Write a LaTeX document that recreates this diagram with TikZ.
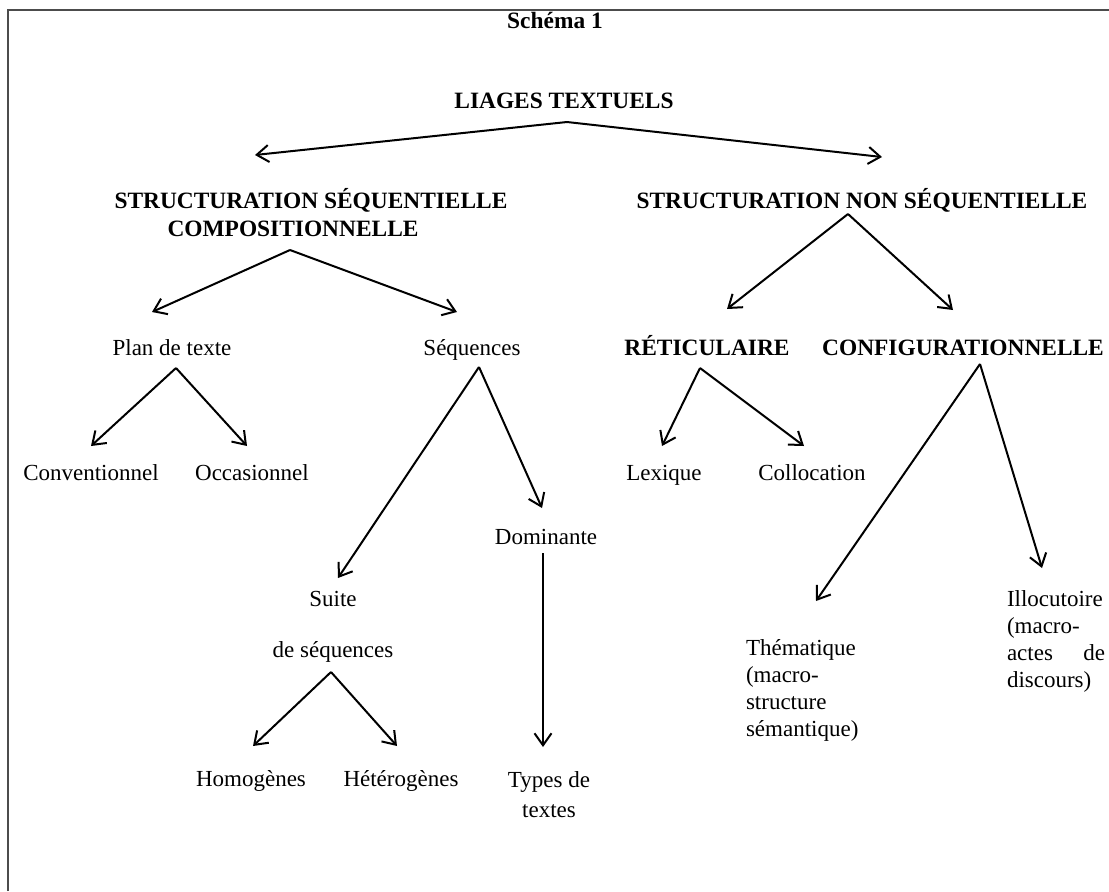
\documentclass[tikz,border=0pt]{standalone}
\usepackage{fontspec}
\setmainfont{Liberation Serif}
\usetikzlibrary{arrows.meta}
\begin{document}
\begin{tikzpicture}[x=0.5pt,y=-0.5pt,
  every node/.style={inner sep=0pt, outer sep=0pt, anchor=base, font=\fontsize{11.5}{13.4}\selectfont},
  hd/.style={font=\fontsize{11.7}{13.4}\selectfont\bfseries},
  link/.style={line width=1pt, -{Straight Barb[length=6pt,width=8.5pt,line width=1pt]}},
  frame/.style={line width=1pt, draw=black!70}]
\useasboundingbox (0,0) rectangle (1109,891);
\draw[frame] (8,891) -- (8,10) -- (1109,10);

% texts
\node[hd] (title) at (555,28) {Schéma 1};
\node[hd] (liages) at (564,108) {LIAGES TEXTUELS};
\node[hd] (seqA) at (311,208) {STRUCTURATION SÉQUENTIELLE};
\node[hd] (seqB) at (293,236) {COMPOSITIONNELLE};
\node[hd] (nonseq) at (862,208) {STRUCTURATION NON SÉQUENTIELLE};
\node (plan) at (172,355) {Plan de texte};
\node (sequences) at (472,355) {Séquences};
\node[hd] (ret) at (707,355) {RÉTICULAIRE};
\node[hd] (config) at (963,355) {CONFIGURATIONNELLE};
\node (conv) at (91,480) {Conventionnel};
\node (occ) at (252,480) {Occasionnel};
\node (lex) at (664,480) {Lexique};
\node (coll) at (812,480) {Collocation};
\node (dom) at (546,544) {Dominante};
\node (suite) at (333,606) {Suite};
\node (deseq) at (333,657) {de séquences};
\node (homo) at (251,786) {Homogènes};
\node (hetero) at (401,786) {Hétérogènes};
\node[align=center] (types) at (549,817) {Types de\\[1.2pt]textes};
\node[anchor=base west, align=left] (them) at (746,736) {Thématique\\(macro-\\structure\\sémantique)};
\node[anchor=base west, align=left] (illoc) at (1007,687) {Illocutoire\\(macro-\\\hbox to 49pt{actes\hfill de}\\discours)};

% connector end points
\coordinate (liagesApex) at (567,122);
\coordinate (seqTip) at (255,155);
\coordinate (nonseqTip) at (882,157);
\coordinate (compApex) at (290,250);
\coordinate (planTip) at (152,312);
\coordinate (sequencesTip) at (457,312);
\coordinate (planApex) at (176,368);
\coordinate (convTip) at (91,446);
\coordinate (occTip) at (247,446);
\coordinate (sequencesApex) at (479,367);
\coordinate (suiteTip) at (338,578);
\coordinate (domTip) at (542,508);
\coordinate (domStart) at (543,553);
\coordinate (typesTip) at (543,747);
\coordinate (suiteApex) at (331,672);
\coordinate (homoTip) at (253,746);
\coordinate (heteroTip) at (397,746);
\coordinate (nonseqApex) at (848,214);
\coordinate (retTip) at (727,309);
\coordinate (configTip) at (953,310);
\coordinate (retApex) at (700,368);
\coordinate (lexTip) at (662,446);
\coordinate (collTip) at (804,446);
\coordinate (configApex) at (980,364);
\coordinate (themTip) at (816,601);
\coordinate (illocTip) at (1042,568);

% connectors
\draw[link] (liagesApex) -- (seqTip);
\draw[link] (liagesApex) -- (nonseqTip);
\draw[link] (compApex) -- (planTip);
\draw[link] (compApex) -- (sequencesTip);
\draw[link] (planApex) -- (convTip);
\draw[link] (planApex) -- (occTip);
\draw[link] (sequencesApex) -- (suiteTip);
\draw[link] (sequencesApex) -- (domTip);
\draw[link] (domStart) -- (typesTip);
\draw[link] (suiteApex) -- (homoTip);
\draw[link] (suiteApex) -- (heteroTip);
\draw[link] (nonseqApex) -- (retTip);
\draw[link] (nonseqApex) -- (configTip);
\draw[link] (retApex) -- (lexTip);
\draw[link] (retApex) -- (collTip);
\draw[link] (configApex) -- (themTip);
\draw[link] (configApex) -- (illocTip);
\end{tikzpicture}
\end{document}
